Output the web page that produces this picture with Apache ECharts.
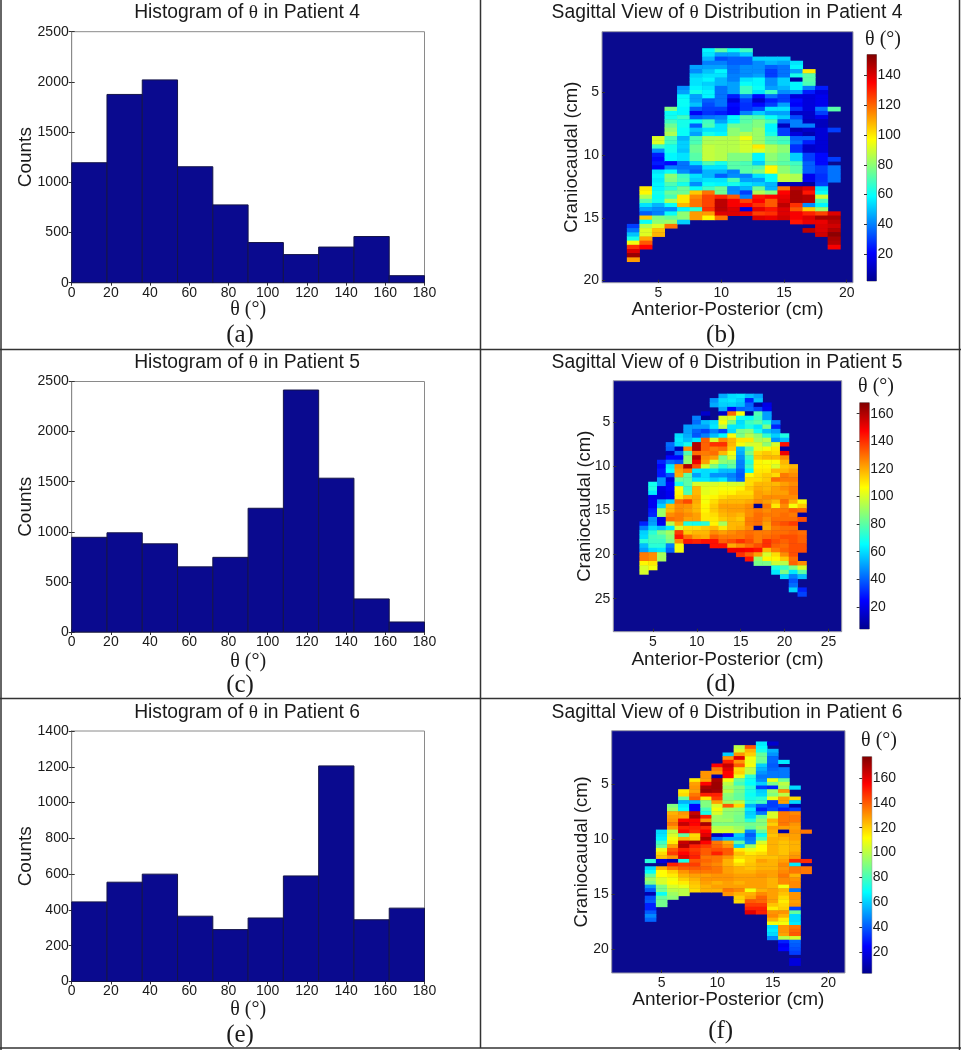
<!DOCTYPE html>
<html><head><meta charset="utf-8">
<style>html,body{margin:0;padding:0;background:#fff}#c{width:961px;height:1050px}</style>
<script src="https://cdn.jsdelivr.net/npm/echarts@6/dist/echarts.min.js"></script>
</head><body><div id="c"></div>
<script>
// Histograms: 10 equal bins over 0-180 degrees
const binEdges = [0,18,36,54,72,90,108,126,144,162,180];
const histP4 = [1195,1875,2020,1155,775,400,280,355,460,70];
const histP5 = [945,990,880,650,745,1235,2415,1535,330,100];
const histP6 = [445,555,600,365,290,355,590,1205,345,410];

// Heatmaps: each line is [column (cm), first row index, values down the column...]; null = empty cell
const colsP4 = [
[3,46, 30,38,50,62,95,128,140,150,112],
[4,37, 100,98,85,72,55,45,35,105,60,85,92,92,110,122,135],
[5,25, 92,92,68,42,25,22,25,20,55,58,56,58,58,62,60,62,48,42,40,78,80,92,106,108],
[6,18, 78,60,62,68,75,80,85,70,68,62,62,58,58,22,40,60,80,78,70,65,75,70,85,60,42,60,75,82,118],
[7,13, 42,45,58,60,60,58,58,68,62,62,60,60,48,52,52,50,55,55,38,38,42,68,70,62,75,75,100,100,108,58,80,80,52],
[8,8, 45,42,52,55,55,58,62,45,45,50,35,20,35,60,35,50,45,70,70,75,75,72,72,55,38,35,55,52,42,60,105,115,118,118,65,112,112],
[9,4, 58,55,48,40,45,50,55,58,52,55,58,58,35,32,30,28,38,68,70,55,62,85,85,88,88,88,88,70,55,48,48,55,60,68,118,125,125,125,128,112,98],
[10,4, 72,45,32,40,45,58,55,48,48,38,38,38,38,38,30,25,40,45,55,55,58,86,86,86,86,86,86,62,55,48,35,55,58,75,75,130,145,145,145,140,118],
[11,4, 60,45,35,35,38,38,40,40,45,45,45,25,15,22,20,20,58,58,75,80,80,86,86,86,86,78,78,72,72,40,42,70,62,42,42,122,136,136,140,140],
[12,4, 68,52,35,35,42,42,42,55,60,68,68,40,30,28,28,40,72,72,75,75,85,95,90,90,90,78,78,70,72,72,40,45,55,48,30,40,125,135,15,138],
[13,6, 52,42,42,42,45,58,58,60,55,22,12,22,32,52,70,78,78,82,82,82,82,100,92,58,58,52,72,78,55,45,52,75,85,132,135,128,138,126,140],
[14,6, 52,48,35,30,30,42,42,45,68,38,25,30,55,45,60,70,58,58,62,72,72,85,85,80,80,75,98,98,60,60,48,48,78,135,122,122,132,128,138],
[15,6, 52,45,38,38,38,52,52,48,42,30,30,45,55,45,52,35,10,30,30,70,68,80,80,75,75,72,80,80,88,88,8,118,135,138,140,145,140,140,142],
[16,7, 55,58,45,62,5,58,58,45,15,22,20,28,12,32,40,40,8,15,35,38,28,28,52,52,68,72,72,85,85,8,145,148,148,148,128,122,136,136,132],
[17,9, 100,72,72,70,40,25,15,15,15,15,12,12,10,40,12,8,35,25,12,12,30,30,35,35,35,18,18,5,140,132,146,146,42,105,130,140,138,null,145],
[18,13, 25,15,18,18,18,38,30,18,10,10,14,14,14,14,14,14,22,22,22,30,30,28,28,30,55,60,90,70,58,82,125,148,138,140,140,142],
[19,18, 72,null,null,null,null,30,null,null,null,null,null,null,30,null,38,38,38,38,null,null,null,null,null,null,null,140,148,145,142,146,152,148,146,136]
];
const colsP5 = [
[4,32, 30,45,58,60,72,55,50,128,128,108,100,100],
[5,23, 68,70,62,20,22,22,28,30,48,50,60,72,76,75,72,60,125,125,110,105],
[6,18, 30,25,28,28,48,48,20,18,18,50,58,90,90,20,22,55,85,78,75,72,62,92,92],
[7,14, 42,40,12,25,42,62,65,38,18,25,25,22,22,58,118,118,125,130,95,62,92,88,85,45,40],
[8,12, 60,62,60,12,42,25,38,125,122,120,82,68,105,108,110,130,125,125,128,128,120,100,138,145,125,105,105],
[9,10, 50,50,52,55,68,125,78,88,88,160,128,80,80,80,75,78,118,136,124,122,125,122,70,112,115,130,144],
[10,8, 45,42,50,40,38,62,160,160,130,160,150,135,62,50,62,100,118,118,120,120,118,118,122,122,68,112,118,122,142],
[11,7, 15,3,55,50,35,45,132,132,132,128,125,122,100,60,60,62,100,102,102,105,105,108,108,110,110,72,115,118,120,145],
[12,4, 48,52,null,null,null,60,62,45,55,100,140,128,130,122,100,85,62,48,58,100,104,104,108,112,115,115,112,110,108,118,125,132,145,145],
[13,3, 52,60,58,52,15,100,105,95,35,65,125,140,130,118,85,88,72,55,48,62,102,105,108,112,118,122,120,118,115,92,110,122,128,132,145],
[14,3, 60,62,58,25,130,100,85,62,60,105,118,118,115,105,100,85,80,55,45,48,100,105,108,115,118,122,122,120,118,118,118,125,128,135,120,150],
[15,3, 62,58,55,40,105,68,60,62,85,85,110,105,55,52,48,45,45,40,38,40,100,108,112,115,118,122,122,118,115,118,120,128,128,140,125,150,140],
[16,3, 55,30,40,42,5,65,75,70,88,95,110,100,78,85,75,70,75,65,105,112,112,115,112,115,120,125,125,125,128,128,125,130,132,135,130,148,132,145],
[17,3, 50,55,8,35,78,75,80,62,68,88,92,100,102,112,115,108,108,110,112,112,118,120,122,122,125,5,128,130,130,130,5,128,128,128,135,145,122,90,85],
[18,5, 20,22,50,50,70,85,55,72,95,88,105,115,118,105,108,110,115,115,118,118,120,125,122,128,125,128,125,122,120,128,130,140,140,118,100,108,85],
[19,9, 45,30,50,58,48,100,110,112,118,105,100,118,112,130,118,122,122,125,118,110,128,128,130,132,128,130,132,135,132,128,112,108,98,70,62],
[20,12, 70,55,145,8,150,125,118,115,118,128,128,122,125,122,125,130,125,128,130,130,135,130,130,135,132,130,132,125,115,95,75,85,60],
[21,19, 118,122,125,128,125,128,128,125,120,105,132,128,130,138,130,132,135,135,135,135,135,130,132,85,62,45,38,42,58],
[22,27, 105,115,130,8,135,null,null,130,132,132,135,135,null,null,125,100,80,55,null,null,30,35]
];
const colsP6 = [
[4,35, 75,null,62,68,85,95,90,50,40,10,38,40,30,30,40,48,42],
[5,27, 62,64,66,78,85,108,118,122,18,null,125,112,112,105,105,90,88,70,85,88,88],
[6,20, 90,95,125,128,130,135,128,100,105,110,115,128,140,145,130,10,150,135,120,115,110,112,105,100,95,92],
[7,16, 115,118,85,55,65,68,130,128,155,165,150,155,85,125,165,168,150,155,160,72,145,140,130,125,120,115,108,100,100],
[8,13, 115,128,130,128,135,140,55,25,25,165,170,155,155,150,148,118,120,170,150,145,148,150,140,145,140,135,128,125,122,120,118],
[9,11, 130,130,128,155,170,172,150,115,90,90,80,72,150,130,170,148,155,160,170,155,145,140,140,135,138,135,138,135,128,130,128,125,125],
[10,9, 155,135,130,8,170,172,172,170,150,145,128,105,110,105,95,95,90,100,105,12,45,135,138,142,150,135,135,132,135,135,130,130,125,128,125],
[11,6, 60,130,150,165,160,155,155,110,100,95,100,92,90,95,140,95,92,92,95,90,100,105,25,55,125,130,140,140,130,125,125,128,128,130,130,128,128,135,130],
[12,4, 100,105,130,160,130,140,118,120,108,85,80,90,88,85,85,100,118,92,90,88,88,90,95,100,60,55,85,60,115,122,118,112,118,125,125,128,128,125,128,132,125,120,118],
[13,4, 140,125,120,110,108,110,100,100,75,70,68,75,72,70,72,75,55,65,60,62,75,88,85,48,40,45,48,95,108,115,120,120,122,122,125,128,128,128,128,110,125,128,140,145,150,160],
[14,3, 65,68,72,85,88,85,60,55,50,45,48,60,35,60,62,75,80,40,30,45,85,92,90,95,85,70,80,105,112,112,118,122,128,125,125,128,130,128,128,128,125,132,138,138,145,150,150],
[15,3, 15,null,55,50,42,42,40,42,45,45,108,88,30,95,90,108,35,35,38,105,105,125,120,128,125,122,125,125,125,125,125,122,125,125,125,128,128,125,125,125,128,128,128,128,122,115,130,132,125,110,62,65,62,48],
[16,8, 65,null,45,45,45,85,100,95,130,100,128,128,40,30,135,135,135,135,128,8,128,125,122,122,122,122,125,128,132,130,132,135,132,132,110,125,122,118,115,118,120,130,125,115,110,130,130,128,100,30,22,25],
[17,15, 62,null,null,118,62,8,35,132,135,135,130,128,130,128,128,125,125,125,128,130,148,65,135,135,125,130,132,132,45,130,130,128,130,35,85,62,62,65,135,138,140,105,42,40,38,35,null,18,18],
[18,27, 135,null,null,null,null,null,null,null,148,null,135,135]
];

const histGrids = [
 {hist:histP4,name:'Histogram of θ in Patient 4',max:2500,step:500,top:31.7,h:251,titleY:13,cap:'(a)',capY:335,nameGap:17},
 {hist:histP5,name:'Histogram of θ in Patient 5',max:2500,step:500,top:381.5,h:250.5,titleY:363,cap:'(c)',capY:685,nameGap:20},
 {hist:histP6,name:'Histogram of θ in Patient 6',max:1400,step:200,top:731,h:250.5,titleY:713,cap:'(e)',capY:1035,nameGap:18}
];
const heatGrids = [
 {cols:colsP4,name:'Sagittal View of θ Distribution in Patient 4',nx:20,ny:60,perCm:3,left:602,top:31.7,w:251,h:251,range:[2,154],cb:{left:867,top:54.5,w:9.5,h:226.5},cbTicks:[20,40,60,80,100,120,140],cbTitle:[883,40],titleY:13,cap:'(b)',capY:335,nameGap:18,yGap:21},
 {cols:colsP5,name:'Sagittal View of θ Distribution in Patient 5',nx:26,ny:57,perCm:2,left:613.3,top:380.7,w:228.4,h:251,range:[4,168],cb:{left:859.7,top:402.7,w:9.6,h:226.3},cbTicks:[20,40,60,80,100,120,140,160],cbTitle:[876,387],titleY:363,cap:'(d)',capY:684,nameGap:19,yGap:19},
 {cols:colsP6,name:'Sagittal View of θ Distribution in Patient 6',nx:21,ny:66,perCm:3,left:611.7,top:730.7,w:233.3,h:242.3,range:[3,177],cb:{left:862.3,top:756.7,w:9.4,h:216.6},cbTicks:[20,40,60,80,100,120,140,160],cbTitle:[879,741],titleY:713,cap:'(f)',capY:1031,nameGap:17.5,yGap:20.7}
];

const NAVY='#0a0a8f', SANS='"Liberation Sans",Arial,sans-serif', SERIF='"Liberation Serif","Times New Roman",serif', INK='#1a1a1a', FRAME='#8a8a8a';
const JET=['#00008f','#0000ff','#0080ff','#00ffff','#80ff80','#ffff00','#ff8000','#ff0000','#800000'];

const grid=[],xAxis=[],yAxis=[],series=[],visualMap=[],graphic=[];
function label(text,x,y,size,family){graphic.push({type:'text',x,y,silent:true,style:{text,font:size+'px '+family,fill:INK,align:'center',verticalAlign:'middle'}});}
function titleText(text,x,y){
  const [a,b]=text.split('θ');
  graphic.push({type:'text',x,y,silent:true,style:{text:'{s|'+a+'}{t|θ}{s|'+b+'}',align:'center',verticalAlign:'middle',fill:INK,
    rich:{s:{fontFamily:SANS,fontSize:19.3,fill:INK},t:{fontFamily:SERIF,fontSize:19.3,fill:INK}}}});
}
const tickStyle={show:true,inside:true,length:3,lineStyle:{color:'#333',width:1}};
const plain=v=>String(v);

histGrids.forEach(g=>{
  const gi=grid.length;
  grid.push({left:71.7,top:g.top,width:352.8,height:g.h,show:true,backgroundColor:'#fff',borderColor:FRAME,borderWidth:1});
  const xi=xAxis.length, yi=yAxis.length;
  xAxis.push({type:'value',gridIndex:gi,min:0,max:180,interval:20,position:'bottom',splitLine:{show:false},
    axisLine:{show:true,lineStyle:{color:FRAME}},axisTick:tickStyle,
    axisLabel:{color:INK,fontFamily:SANS,fontSize:14,margin:3,formatter:plain},
    name:'θ (°)',nameLocation:'middle',nameGap:g.nameGap,nameMoveOverlap:false,nameTextStyle:{fontFamily:SERIF,fontSize:20,color:INK}});
  xAxis.push({type:'value',gridIndex:gi,min:0,max:180,interval:20,position:'top',splitLine:{show:false},
    axisLine:{show:true,lineStyle:{color:FRAME}},axisTick:tickStyle,axisLabel:{show:false}});
  yAxis.push({type:'value',gridIndex:gi,min:0,max:g.max,interval:g.step,position:'left',splitLine:{show:false},
    axisLine:{show:true,lineStyle:{color:FRAME}},axisTick:tickStyle,
    axisLabel:{color:INK,fontFamily:SANS,fontSize:14,margin:3,formatter:plain},
    name:'Counts',nameLocation:'middle',nameGap:36,nameMoveOverlap:false,nameTextStyle:{fontFamily:SANS,fontSize:19,color:INK}});
  yAxis.push({type:'value',gridIndex:gi,min:0,max:g.max,interval:g.step,position:'right',splitLine:{show:false},
    axisLine:{show:true,lineStyle:{color:FRAME}},axisTick:tickStyle,axisLabel:{show:false}});
  series.push({type:'custom',xAxisIndex:xi,yAxisIndex:yi,silent:true,
    data:g.hist.map((v,i)=>[binEdges[i],binEdges[i+1],v]),
    encode:{x:[0,1],y:2},
    renderItem:(p,api)=>{
      const a=api.coord([api.value(0),api.value(2)]), b=api.coord([api.value(1),0]);
      return {type:'rect',shape:{x:a[0],y:a[1],width:b[0]-a[0],height:b[1]-a[1]},style:{fill:NAVY,stroke:'#15154a',lineWidth:1}};
    }});
  titleText(g.name,247,g.titleY);
  label(g.cap,240,g.capY,25,SERIF);
});

heatGrids.forEach(g=>{
  const gi=grid.length;
  grid.push({left:g.left,top:g.top,width:g.w,height:g.h,show:true,backgroundColor:NAVY,borderColor:'#9a9aa8',borderWidth:1});
  const xCats=[]; for(let i=1;i<=g.nx;i++) xCats.push(String(i));
  const yCats=[]; for(let r=1;r<=g.ny;r++) yCats.push(String(Math.round(r/g.perCm*100)/100));
  const xi=xAxis.length, yi=yAxis.length;
  const xShow=i=>(i+1)%5===0, yShow=i=>(i+1)%(5*g.perCm)===0;
  xAxis.push({type:'category',gridIndex:gi,data:xCats,position:'bottom',splitLine:{show:false},
    axisLine:{show:false},axisTick:{show:true,inside:true,length:3,alignWithLabel:true,interval:xShow,lineStyle:{color:'#333'}},
    axisLabel:{interval:xShow,color:INK,fontFamily:SANS,fontSize:14,margin:3},
    name:'Anterior-Posterior (cm)',nameLocation:'middle',nameGap:g.nameGap,nameMoveOverlap:false,nameTextStyle:{fontFamily:SANS,fontSize:19,color:INK}});
  yAxis.push({type:'category',gridIndex:gi,data:yCats,inverse:true,position:'left',splitLine:{show:false},
    axisLine:{show:false},axisTick:{show:true,inside:true,length:3,alignWithLabel:true,interval:yShow,lineStyle:{color:'#333'}},
    axisLabel:{interval:yShow,color:INK,fontFamily:SANS,fontSize:14,margin:3},
    name:'Craniocaudal (cm)',nameLocation:'middle',nameGap:g.yGap,nameMoveOverlap:false,nameTextStyle:{fontFamily:SANS,fontSize:18.5,color:INK}});
  const data=[];
  g.cols.forEach(c=>{const k=c[0],s=c[1];c.slice(2).forEach((v,j)=>{if(v!==null)data.push([k-1,s+j,v]);});});
  const si=series.length;
  series.push({type:'heatmap',xAxisIndex:xi,yAxisIndex:yi,data,silent:true,progressive:0,itemStyle:{borderWidth:0},emphasis:{disabled:true}});
  visualMap.push({show:false,type:'continuous',seriesIndex:si,dimension:2,min:g.range[0],max:g.range[1],inRange:{color:JET}});
  titleText(g.name,727,g.titleY);
  label(g.cap,720.7,g.capY,25,SERIF);
  // colour bar
  const gc=grid.length;
  grid.push({left:g.cb.left,top:g.cb.top,width:g.cb.w,height:g.cb.h,show:true,borderColor:'#8a8a8a',borderWidth:1});
  const cx=xAxis.length, cy=yAxis.length;
  xAxis.push({type:'value',gridIndex:gc,min:0,max:1,show:false});
  yAxis.push({type:'value',gridIndex:gc,min:g.range[0],max:g.range[1],position:'right',splitLine:{show:false},
    axisLine:{show:false},
    axisTick:{show:true,inside:true,length:3,customValues:g.cbTicks,lineStyle:{color:'#333'}},
    axisLabel:{color:INK,fontFamily:SANS,fontSize:14,margin:1,customValues:g.cbTicks}});
  series.push({type:'custom',xAxisIndex:cx,yAxisIndex:cy,silent:true,data:[[0,1,g.range[0],g.range[1]]],encode:{x:[0,1],y:[2,3]},
    renderItem:(p,api)=>{
      const a=api.coord([api.value(0),api.value(3)]), b=api.coord([api.value(1),api.value(2)]);
      return {type:'rect',shape:{x:a[0],y:a[1],width:b[0]-a[0],height:b[1]-a[1]},
        style:{fill:new echarts.graphic.LinearGradient(0,1,0,0,JET.map((c,i)=>({offset:i/(JET.length-1),color:c})))}};
    }});
  label('θ (°)',g.cbTitle[0],g.cbTitle[1],20,SERIF);
});

// table rules
function rule(x1,y1,x2,y2){graphic.push({type:'line',silent:true,shape:{x1,y1,x2,y2},style:{stroke:'#333',lineWidth:1.5}});}
rule(1,0,1,1050); rule(480.5,0,480.5,1048); rule(959.5,0,959.5,1050);
rule(0,349.5,961,349.5); rule(0,698.5,961,698.5); rule(0,1048,961,1048);

const chart=echarts.init(document.getElementById('c'),null,{renderer:'canvas'});
chart.setOption({animation:false,backgroundColor:'#fff',grid,xAxis,yAxis,series,visualMap,graphic});
</script></body></html>
